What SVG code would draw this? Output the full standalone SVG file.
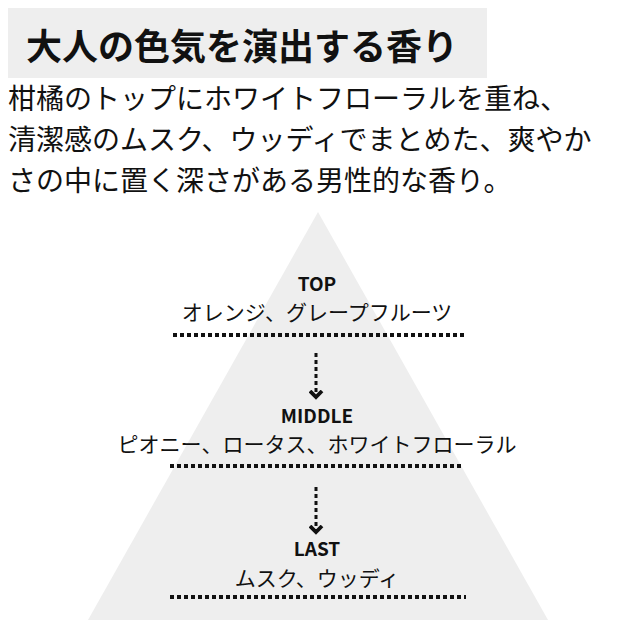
<svg xmlns="http://www.w3.org/2000/svg" width="640" height="640" viewBox="0 0 640 640">
<style>
text{font-family:"Noto Sans CJK JP","Noto Sans",sans-serif;fill:#111}
.h{font-size:19px;font-weight:bold;text-anchor:middle}
.s{font-size:21px;text-anchor:middle}
.b{font-size:28px}
.dot{stroke:#111;stroke-width:4;stroke-dasharray:4 3;fill:none}
.arr{stroke:#111;stroke-width:3;stroke-dasharray:4 3;fill:none}
</style>
<defs><marker id="a" viewBox="0 0 10 10" refX="5" refY="5" markerWidth="5" markerHeight="5" orient="auto"><path d="M1,1 L5,5 L1,9" stroke="#111" stroke-width="2.5" fill="none"/></marker></defs>
<rect x="8" y="8" width="479" height="70" fill="#eeeeee"/>
<text x="26" y="60" style="font-size:36px;font-weight:bold">大人の色気を演出する香り</text>
<text class="b" x="8" y="109">柑橘のトップにホワイトフローラルを重ね、</text>
<text class="b" x="8" y="150">清潔感のムスク、ウッディでまとめた、爽やか</text>
<text class="b" x="8" y="191">さの中に置く深さがある男性的な香り。</text>
<polygon points="318,212 548,620 88,620" fill="#eeeeee"/>
<g id="top"><text class="h" x="317" y="291">TOP</text><text class="s" x="317" y="320">オレンジ、グレープフルーツ</text></g>
<g id="middle"><text class="h" x="317" y="423">MIDDLE</text><text class="s" x="317" y="452">ピオニー、ロータス、ホワイトフローラル</text></g>
<g id="last"><text class="h" x="317" y="556">LAST</text><text class="s" x="317" y="586">ムスク、ウッディ</text></g>
<g id="connectors">
<line class="dot" x1="173" y1="335" x2="466" y2="335"/>
<line class="dot" x1="170" y1="466" x2="463" y2="466"/>
<line class="dot" x1="170" y1="597" x2="466" y2="597"/>
<line class="arr" x1="316" y1="353" x2="316" y2="397" marker-end="url(#a)"/>
<line class="arr" x1="316" y1="487" x2="316" y2="532" marker-end="url(#a)"/>
</g>
</svg>
